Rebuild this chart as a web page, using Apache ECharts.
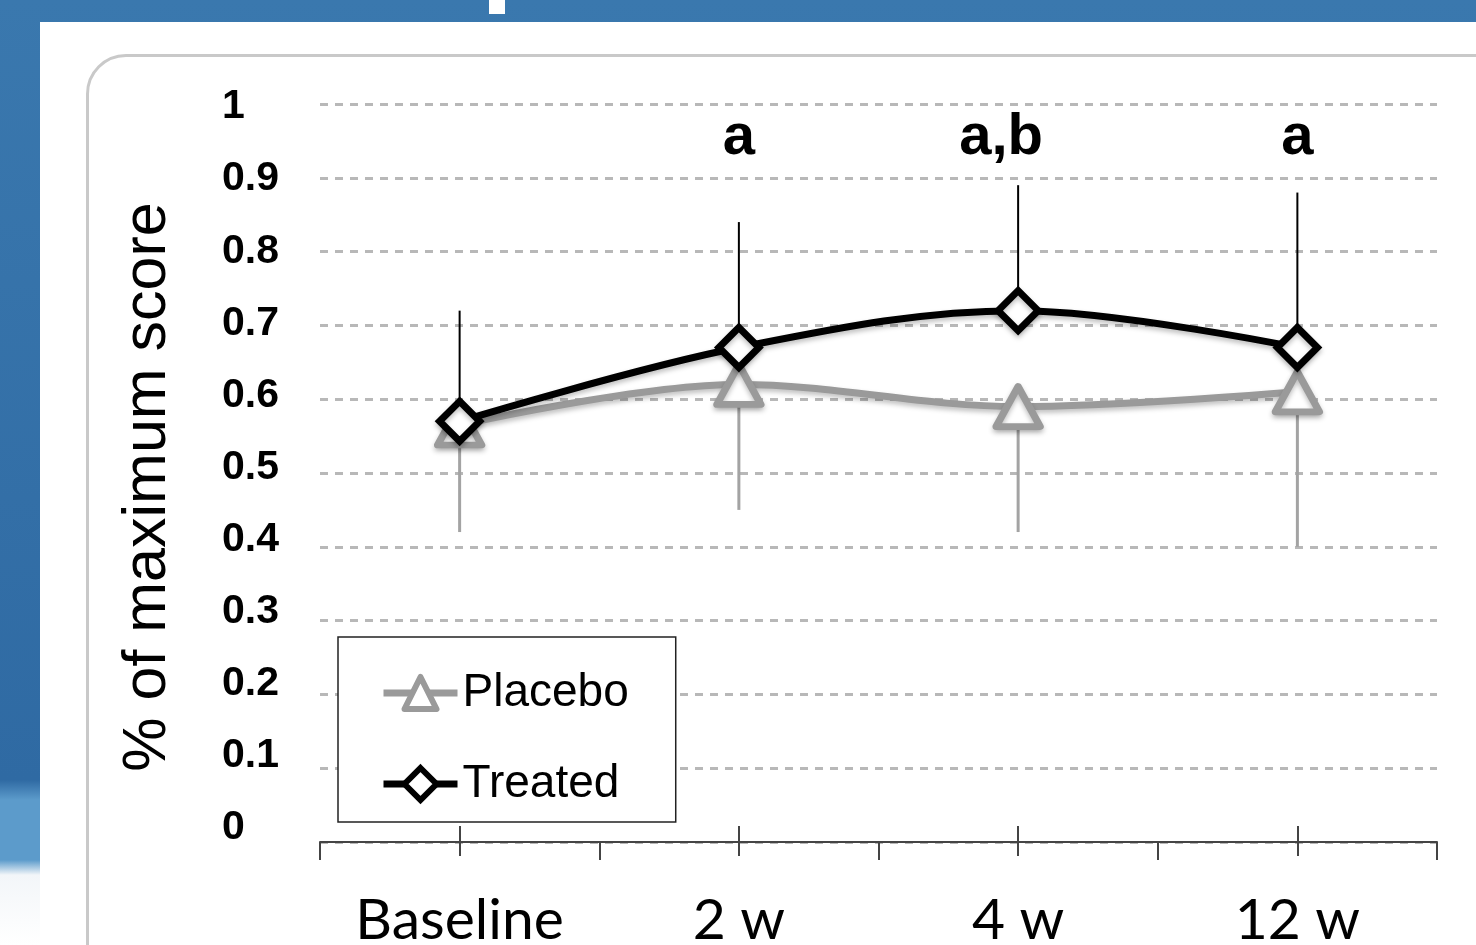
<html lang="en">
<head>
    <meta charset="UTF-8">
    <title>% of maximum score</title>
    <script src="https://cdn.jsdelivr.net/npm/echarts@6/dist/echarts.min.js"></script>
    <style>
        body { margin: 0; width: 1476px; height: 945px; overflow: hidden;
               background: linear-gradient(to bottom, #3a78ae 0, #2f6aa3 780px, #5c9bcb 800px, #5c9bcb 860px, #f3f6f9 875px, #ffffff 945px); }
        #panel { position: absolute; left: 40px; top: 22px; right: 0; bottom: 0; background: #fff; }
        #notch { position: absolute; left: 489px; top: 0; width: 16px; height: 14px; background: #fff; }
        #frame { position: absolute; left: 86px; top: 54px; width: 1500px; height: 1000px;
                 border: 3px solid #c9c9c9; border-radius: 40px; }
        #main { position: absolute; left: 0; top: 0; width: 1476px; height: 945px; }
    </style>
</head>
<body>
    <div id="panel"></div>
    <div id="notch"></div>
    <div id="frame"></div>
    <div id="main"></div>
    <script type="text/javascript">
        // 数据
        var categories = ['Baseline', '2 w', '4 w', '12 w'];
        var placebo = [0.565, 0.62, 0.59, 0.61];
        var treated = [0.57, 0.67, 0.72, 0.67];
        var placeboLow = [0.42, 0.45, 0.42, 0.40];
        var treatedHigh = [0.72, 0.84, 0.89, 0.88];
        var marks = ['', 'a', 'a,b', 'a'];

        var myChart = echarts.init(document.getElementById('main'));

        var GRAY = '#9a9a9a';
        var shadow = { shadowColor: 'rgba(0,0,0,0.25)', shadowBlur: 5, shadowOffsetY: 3 };

        // 误差线
        function errorBar(color, width) {
            return function (params, api) {
                var p0 = api.coord([api.value(0), api.value(1)]);
                var p1 = api.coord([api.value(0), api.value(2)]);
                return {
                    type: 'line',
                    shape: { x1: p0[0], y1: p0[1], x2: p1[0], y2: p1[1] },
                    style: { stroke: color, lineWidth: width }
                };
            };
        }

        // 显著性标记
        function markText(params, api) {
            var p = api.coord([api.value(0), 0.954]);
            var txt = marks[params.dataIndex];
            return {
                type: 'text', x: p[0] - (txt.length > 1 ? 17 : 0), y: p[1],
                style: { text: txt, fontFamily: 'Liberation Sans', fontWeight: 'bold', fontSize: 58,
                         fill: '#000', align: 'center', verticalAlign: 'middle' }
            };
        }

        var tickAxis = function (inside, len) {
            return {
                type: 'category', gridIndex: 0, position: 'bottom', data: categories,
                boundaryGap: true,
                axisLine: { show: false },
                axisLabel: { show: false },
                axisTick: { show: true, alignWithLabel: true, inside: inside, length: len,
                            lineStyle: { color: '#444', width: 2 } }
            };
        };

        var option = {
            animation: false,
            backgroundColor: 'transparent',
            grid: [
                { left: 320, right: 39, top: 104, bottom: 103, outerBoundsMode: 'none' },
                { left: 230, right: 1176, top: 107, bottom: 117, outerBoundsMode: 'none' }
            ],
            legend: {
                data: [
                    { name: 'Placebo', itemStyle: { color: '#fff', borderColor: GRAY, borderWidth: 6, borderJoin: 'round' },
                      lineStyle: { color: GRAY, width: 7 } },
                    { name: 'Treated', itemStyle: { color: '#fff', borderColor: '#000', borderWidth: 6 },
                      lineStyle: { color: '#000', width: 7 } }
                ],
                orient: 'vertical',
                left: 338, top: 637,
                padding: [33, 47, 15, 42],
                itemGap: 45, itemWidth: 74, itemHeight: 40,
                borderColor: '#222', borderWidth: 1.5, borderRadius: 0,
                backgroundColor: '#fff',
                textStyle: { fontFamily: 'Liberation Sans', fontSize: 46, color: '#000' }
            },
            graphic: [{
                type: 'text', x: 148, y: 487, rotation: Math.PI / 2,
                style: { text: '% of maximum score', fontFamily: 'Liberation Sans', fontSize: 61,
                         fill: '#000', align: 'center', verticalAlign: 'middle' }
            }],
            xAxis: [
                {
                    type: 'category', gridIndex: 0, data: categories, boundaryGap: true,
                    axisLine: { lineStyle: { color: '#444', width: 2 } },
                    axisTick: { show: true, alignWithLabel: false, length: 18,
                                lineStyle: { color: '#444', width: 2 } },
                    axisLabel: { margin: 50, fontFamily: 'Lato', fontSize: 57, color: '#000', lineHeight: 57 }
                },
                tickAxis(true, 16),
                tickAxis(false, 14),
                { type: 'value', gridIndex: 1, show: false }
            ],
            yAxis: [
                {
                    type: 'value', gridIndex: 0, min: 0, max: 1, interval: 0.1,
                    axisLine: { show: false }, axisTick: { show: false }, axisLabel: { show: false },
                    splitLine: { lineStyle: { type: [8, 7], color: '#b8b8b8', width: 3 } }
                },
                {
                    type: 'value', gridIndex: 1, min: 0, max: 1, interval: 0.1,
                    axisLine: { show: false }, axisTick: { show: false }, splitLine: { show: false },
                    axisLabel: { margin: 8, align: 'left', fontFamily: 'Liberation Sans', fontWeight: 'bold',
                                 fontSize: 41, color: '#000' }
                }
            ],
            series: [
                {
                    type: 'custom', name: 'placeboErr', xAxisIndex: 0, yAxisIndex: 0, z: 1,
                    renderItem: errorBar('#a3a3a3', 3),
                    encode: { x: 0, y: [1, 2] },
                    data: categories.map(function (c, i) { return [i, placebo[i], placeboLow[i]]; })
                },
                {
                    type: 'custom', name: 'treatedErr', xAxisIndex: 0, yAxisIndex: 0, z: 1,
                    renderItem: errorBar('#000', 2),
                    encode: { x: 0, y: [1, 2] },
                    data: categories.map(function (c, i) { return [i, treated[i], treatedHigh[i]]; })
                },
                {
                    name: 'Placebo', type: 'line', xAxisIndex: 0, yAxisIndex: 0, z: 3,
                    data: placebo, smooth: 0.35,
                    symbol: 'triangle', symbolSize: [44, 40],
                    lineStyle: Object.assign({ color: GRAY, width: 7 }, shadow),
                    itemStyle: Object.assign({ color: '#fff', borderColor: GRAY, borderWidth: 7, borderJoin: 'round' }, shadow)
                },
                {
                    name: 'Treated', type: 'line', xAxisIndex: 0, yAxisIndex: 0, z: 4,
                    data: treated, smooth: 0.35,
                    symbol: 'diamond', symbolSize: 40,
                    lineStyle: Object.assign({ color: '#000', width: 7 }, shadow),
                    itemStyle: Object.assign({ color: '#fff', borderColor: '#000', borderWidth: 7 }, shadow)
                },
                {
                    type: 'custom', name: 'marks', xAxisIndex: 0, yAxisIndex: 0, z: 5,
                    renderItem: markText,
                    encode: { x: 0 },
                    data: categories.map(function (c, i) { return [i]; })
                }
            ]
        };
        myChart.setOption(option);
    </script>
</body>
</html>
